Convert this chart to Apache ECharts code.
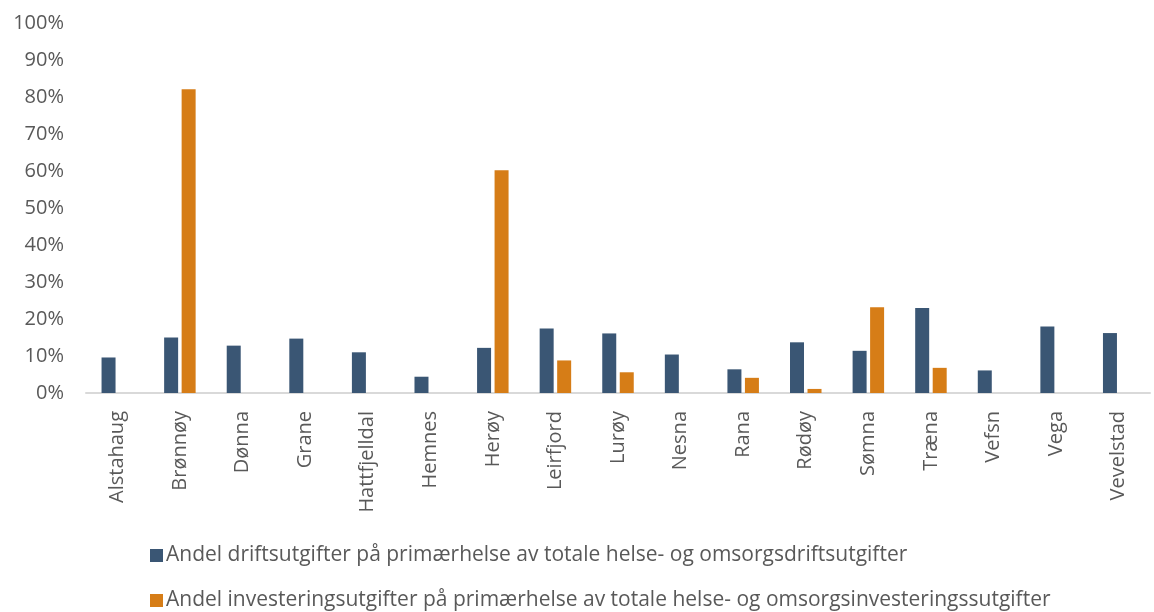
<!DOCTYPE html>
<html><head><meta charset="utf-8">
<script src="https://cdn.jsdelivr.net/npm/echarts@6/dist/echarts.min.js"></script>
<style>html,body{margin:0;padding:0;background:#fff}#c{width:1154px;height:612px}</style>
</head><body><div id="c"></div>
<script>
const categories = ["Alstahaug","Brønnøy","Dønna","Grane","Hattfjelldal","Hemnes","Herøy","Leirfjord","Lurøy","Nesna","Rana","Rødøy","Sømna","Træna","Vefsn","Vega","Vevelstad"];
const drift = [9.6,15.0,12.8,14.7,11.0,4.4,12.2,17.4,16.1,10.4,6.4,13.7,11.4,23.0,6.1,18.0,16.2];
const invest = [null,82.1,null,null,null,null,60.2,8.8,5.6,null,4.1,1.1,23.2,6.8,null,null,null];
const seriesNames = ["Andel driftsutgifter på primærhelse av totale helse- og omsorgsdriftsutgifter","Andel investeringsutgifter på primærhelse av totale helse- og omsorgsinvesteringssutgifter"];
const yTicks = {min:0,max:100,interval:10};

const legendBase = {left:145,itemWidth:13,itemHeight:13,icon:'rect',
  textStyle:{fontSize:21,color:'#595959',fontFamily:'Open Sans',padding:[0,0,0,-2]}};

const chart = echarts.init(document.getElementById('c'));
chart.setOption({
  animation:false,
  textStyle:{fontFamily:'Open Sans'},
  grid:{left:86,right:4,top:23,bottom:219},
  legend:[
    Object.assign({}, legendBase, {top:540, data:[seriesNames[0]]}),
    Object.assign({}, legendBase, {top:585, data:[seriesNames[1]]})
  ],
  xAxis:{type:'category',data:categories,
    axisLine:{lineStyle:{color:'#d9d9d9',width:2}},axisTick:{show:false},
    axisLabel:{rotate:90,fontSize:20,color:'#595959',margin:18,interval:0}},
  yAxis:{type:'value',min:yTicks.min,max:yTicks.max,interval:yTicks.interval,
    axisLine:{show:false},axisTick:{show:false},splitLine:{show:false},
    axisLabel:{formatter:'{value}%',fontSize:20,color:'#595959',margin:22}},
  series:[
    {name:seriesNames[0],type:'bar',data:drift,barWidth:14,barGap:'25%',itemStyle:{color:'#3A5674'}},
    {name:seriesNames[1],type:'bar',data:invest,barWidth:14,itemStyle:{color:'#D67D17'}}
  ]
});
</script></body></html>
